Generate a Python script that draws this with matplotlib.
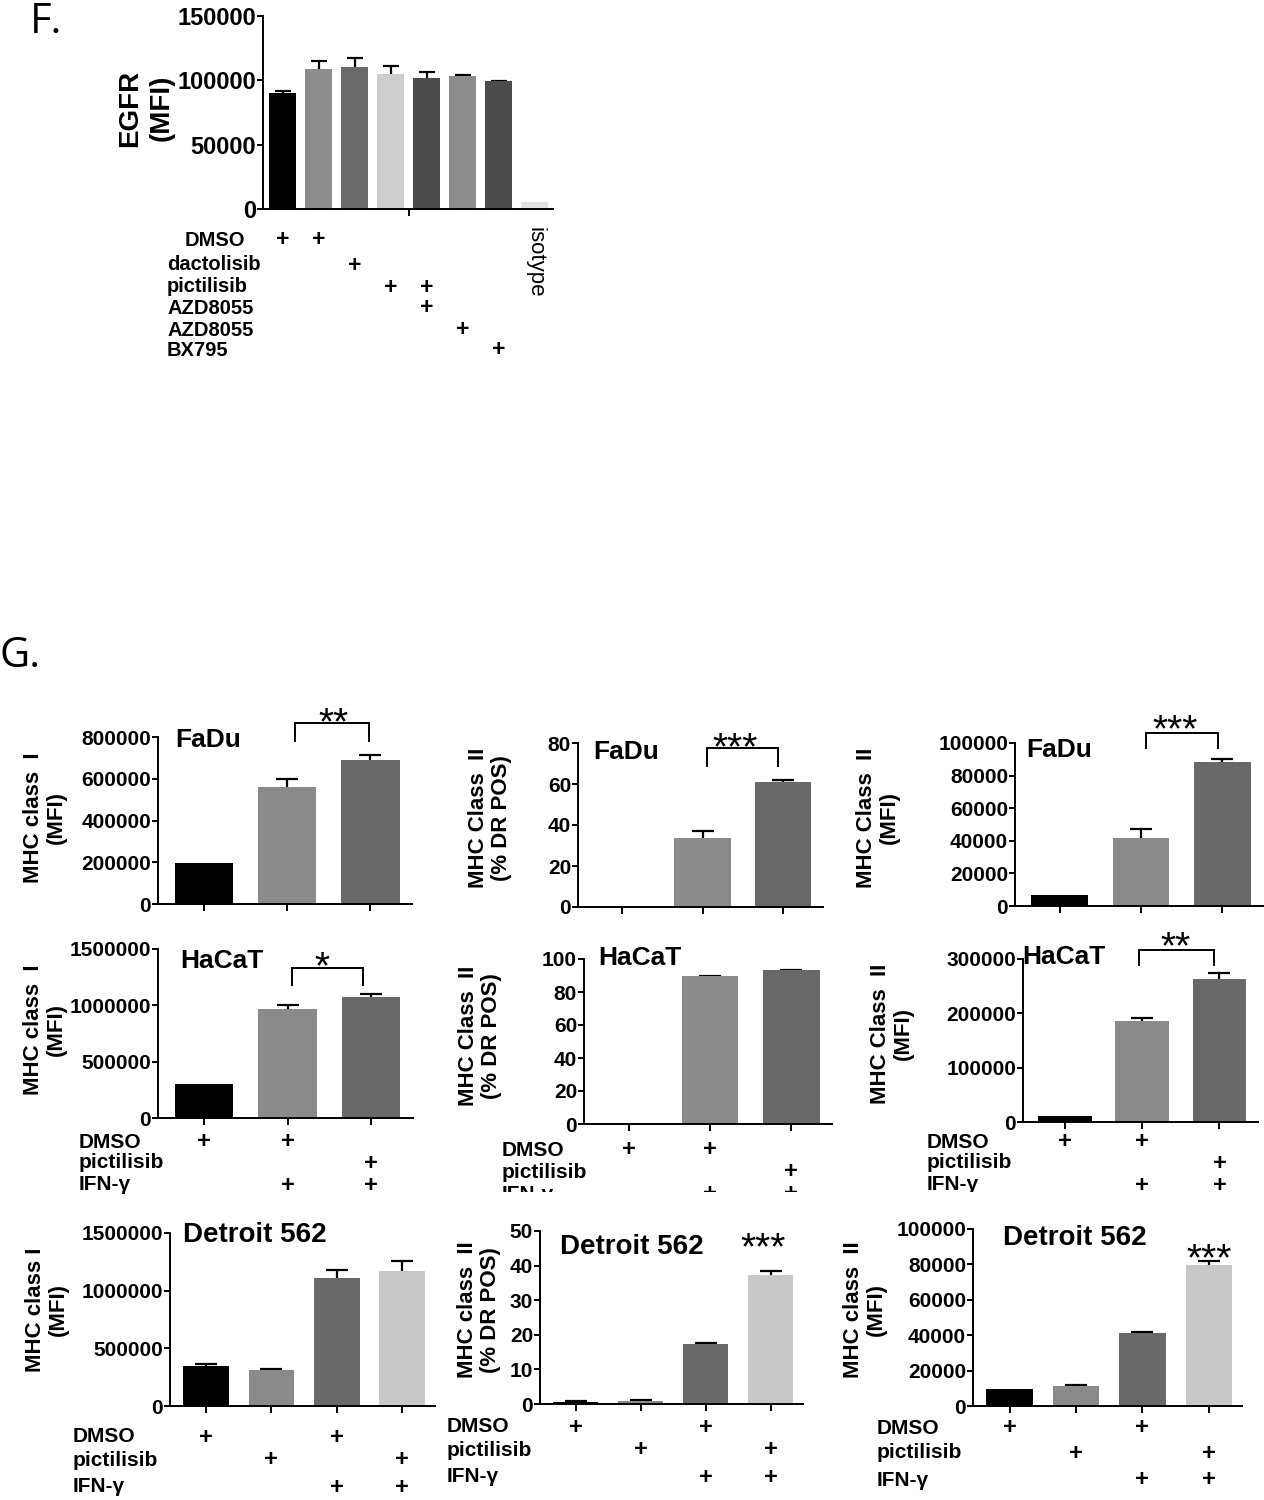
import matplotlib
matplotlib.use('Agg')
import matplotlib.pyplot as plt
import matplotlib.transforms as mtransforms
from matplotlib.patches import Rectangle
import numpy as np

plt.rcParams['font.family'] = ['Liberation Sans', 'DejaVu Sans']

W, H = 1264, 1500
fig = plt.figure(figsize=(W / 100, H / 100), dpi=100)


def fx(x):
    return x / W


def fy(y):
    return 1 - y / H


# ---------------- DATA ----------------
# Panel F : EGFR MFI
egfr_mean = [90000, 109000, 110500, 105200, 101500, 103700, 99200, 5200]
egfr_err = [2000, 5800, 7000, 6200, 4700, 500, 400, 0]
egfr_colors = ['#000000', '#8c8c8c', '#6a6a6a', '#cdcdcd', '#4b4b4b', '#8c8c8c', '#4b4b4b', '#e3e3e3']
egfr_rows = ['DMSO', 'dactolisib', 'pictilisib', 'AZD8055', 'AZD8055', 'BX795']
egfr_plus = [[1, 1, 0, 0, 0, 0, 0, 0],
             [0, 0, 1, 0, 0, 0, 0, 0],
             [0, 0, 0, 1, 1, 0, 0, 0],
             [0, 0, 0, 0, 1, 0, 0, 0],
             [0, 0, 0, 0, 0, 1, 0, 0],
             [0, 0, 0, 0, 0, 0, 1, 0]]

# Panel G : MHC expression
fadu_mhc1 = [198000, 560000, 688000]
fadu_mhc1_err = [0, 38000, 27000]
fadu_dr = [0.6, 33.5, 61.2]
fadu_dr_err = [0, 3.7, 0.7]
fadu_mfi2 = [7000, 42000, 88300]
fadu_mfi2_err = [0, 5500, 2000]

hacat_mhc1 = [306000, 967000, 1071000]
hacat_mhc1_err = [0, 33000, 33000]
hacat_dr = [0.6, 89.5, 93.1]
hacat_dr_err = [0, 0.4, 0.4]
hacat_mfi2 = [10400, 186500, 263000]
hacat_mfi2_err = [0, 5000, 11000]

detroit_mhc1 = [346000, 312000, 1114000, 1171000]
detroit_mhc1_err = [14000, 10000, 69000, 86000]
detroit_dr = [0.7, 1.0, 17.3, 37.4]
detroit_dr_err = [0.1, 0.2, 0.2, 0.9]
detroit_mfi2 = [9800, 11300, 41400, 79400]
detroit_mfi2_err = [0, 500, 300, 2800]

colors3 = ['#000000', '#8a8a8a', '#686868']
colors4 = ['#000000', '#8a8a8a', '#686868', '#c8c8c8']

g_rows = ['DMSO', 'pictilisib', 'IFN-γ']
plus3 = [[1, 1, 0], [0, 0, 1], [0, 1, 1]]
plus4 = [[1, 0, 1, 0], [0, 1, 0, 1], [0, 0, 1, 1]]


# ---------------- HELPERS ----------------
def make_panel(box, means, errs, colors, ymax, ystep, tsize=15, width=0.7,
               cap=8, single_tick=False):
    left, right, top, bottom = box
    ax = fig.add_axes([fx(left), fy(bottom), (right - left) / W, (bottom - top) / H])
    ax.patch.set_alpha(0)
    n = len(means)
    x = np.arange(n)
    m = np.array(means, dtype=float)
    e = np.array(errs, dtype=float)
    sel = e > 0
    if sel.any():
        ax.errorbar(x[sel], m[sel], yerr=e[sel], fmt='none', ecolor='black',
                    elinewidth=1.6, capsize=cap, capthick=1.6, zorder=1)
    ax.bar(x, m, width=width, color=colors, zorder=2, linewidth=0)
    ax.set_xlim(-0.55, n - 0.5)
    ax.set_ylim(0, ymax)
    ax.set_yticks(np.arange(0, ymax + ystep / 2, ystep))
    ax.set_yticklabels([f'{int(v)}' for v in np.arange(0, ymax + ystep / 2, ystep)],
                       fontsize=tsize, fontweight='bold')
    if single_tick:
        ax.set_xticks([(n - 1) / 2])
    else:
        ax.set_xticks(x)
    ax.set_xticklabels([])
    for s in ['top', 'right']:
        ax.spines[s].set_visible(False)
    for s in ['left', 'bottom']:
        ax.spines[s].set_linewidth(1.4)
    ax.tick_params(axis='y', direction='out', length=4, width=1.4, pad=1)
    ax.tick_params(axis='x', direction='out', length=5, width=1.4)
    return ax


def ylabel(text, cx, cy, size=16, ls=1.15):
    fig.text(fx(cx), fy(cy), text, rotation=90, ha='center', va='center',
             multialignment='center', fontsize=size, fontweight='bold', linespacing=ls)


def title(text, left, cy, size=19):
    fig.text(fx(left), fy(cy), text, ha='left', va='center', fontsize=size,
             fontweight='bold')


def rows(ax, labels, table, label_xs, ys, size=15):
    trans = mtransforms.blended_transform_factory(ax.transData, fig.transFigure)
    for lab, flags, lx, y in zip(labels, table, label_xs, ys):
        fig.text(fx(lx), fy(y), lab, ha='left', va='center', fontsize=size,
                 fontweight='bold')
        for i, f in enumerate(flags):
            if f:
                ax.text(i, fy(y), '+', transform=trans, ha='center', va='center',
                        fontsize=size + 2, fontweight='bold')


def stars(ax, x, y, text, size=28):
    tr = mtransforms.offset_copy(ax.transData, fig=fig, y=-0.3 * size, units='points')
    ax.text(x, y, text, transform=tr, ha='center', va='center', fontsize=size,
            clip_on=False)


def bracket(ax, x1, x2, ytop, ybot):
    ax.plot([x1, x1, x2, x2], [ybot, ytop, ytop, ybot], color='black', lw=1.4,
            clip_on=False, solid_joinstyle='miter')


# ---------------- PANEL F ----------------
fig.text(fx(30), fy(33), 'F.', fontsize=30, family='Open Sans', ha='left', va='baseline')
axF = make_panel((263, 553, 16, 209), egfr_mean, egfr_err, egfr_colors, 150000, 50000,
                 tsize=17, width=0.75, cap=6, single_tick=True)
ylabel('EGFR\n(MFI)', 146, 108, size=20, ls=1.3)
rows(axF, egfr_rows, egfr_plus, [185, 167, 167, 167, 167, 167],
     [240, 265, 287, 308, 330, 350], size=14.5)
transF = mtransforms.blended_transform_factory(axF.transData, fig.transFigure)
axF.text(7, fy(227), 'isotype', transform=transF, rotation=-90, ha='center', va='top',
         fontsize=16)

# ---------------- PANEL G ----------------
fig.text(fx(0), fy(667), 'G.', fontsize=30, family='Open Sans', ha='left', va='baseline')

# Row 1 : FaDu
ax1 = make_panel((158, 412, 737, 904), fadu_mhc1, fadu_mhc1_err, colors3, 800000, 200000)
ylabel('MHC class  I\n(MFI)', 45, 818)
title('FaDu', 175, 740)
bracket(ax1, 1.1, 1.98, 867000, 781000)
stars(ax1, 1.56, 915000, '**')

ax2 = make_panel((578, 823, 743, 907), fadu_dr, fadu_dr_err, colors3, 80, 20)
ylabel('MHC Class  II\n(% DR POS)', 490, 818)
title('FaDu', 593, 752)
bracket(ax2, 1.05, 1.94, 77.6, 68.8)
stars(ax2, 1.4, 82.4, '***')

ax3 = make_panel((1015, 1263, 743, 906), fadu_mfi2, fadu_mfi2_err, colors3, 100000, 20000)
ylabel('MHC Class  II\n(MFI)', 878, 818)
title('FaDu', 1026, 750)
bracket(ax3, 1.06, 1.95, 106100, 96900)
stars(ax3, 1.42, 114100, '***')

# Row 2 : HaCaT
ax4 = make_panel((158, 413, 949, 1118), hacat_mhc1, hacat_mhc1_err, colors3, 1500000, 500000)
ylabel('MHC class  I\n(MFI)', 45, 1030)
title('HaCaT', 180, 961)
bracket(ax4, 1.05, 1.9, 1331000, 1180000)
stars(ax4, 1.41, 1429000, '*')
rows(ax4, g_rows, plus3, [79, 79, 79], [1142, 1163, 1185])

ax5 = make_panel((584, 832, 959, 1124), hacat_dr, hacat_dr_err, colors3, 100, 20)
ylabel('MHC Class  II\n(% DR POS)', 480, 1036)
title('HaCaT', 598, 958)
rows(ax5, g_rows, plus3, [502, 502, 502], [1150, 1172, 1194])

ax6 = make_panel((1023, 1258, 959, 1122), hacat_mfi2, hacat_mfi2_err, colors3, 300000, 100000)
ylabel('MHC Class  II\n(MFI)', 892, 1034)
title('HaCaT', 1022, 957)
bracket(ax6, 0.96, 1.93, 316600, 289000)
stars(ax6, 1.43, 340500, '**')
rows(ax6, g_rows, plus3, [927, 927, 927], [1142, 1163, 1185])

# Row 3 : Detroit 562
ax7 = make_panel((170, 435, 1233, 1406), detroit_mhc1, detroit_mhc1_err, colors4, 1500000, 500000)
ylabel('MHC class I\n(MFI)', 47, 1310)
title('Detroit 562', 183, 1235, size=20)
rows(ax7, g_rows, plus4, [73, 73, 73], [1437, 1460, 1487])

ax8 = make_panel((540, 803, 1231, 1404), detroit_dr, detroit_dr_err, colors4, 50, 10)
ylabel('MHC class  II\n(% DR POS)', 479, 1310)
title('Detroit 562', 560, 1247, size=20)
stars(ax8, 2.89, 48.0, '***')
rows(ax8, g_rows, plus4, [447, 447, 447], [1427, 1450, 1477])

ax9 = make_panel((973, 1242, 1229, 1406), detroit_mfi2, detroit_mfi2_err, colors4, 100000, 20000)
ylabel('MHC class  II\n(MFI)', 865, 1310)
title('Detroit 562', 1003, 1238, size=20)
stars(ax9, 3.0, 88700, '***')
rows(ax9, g_rows, plus4, [877, 877, 877], [1428, 1453, 1480])

# cropped strip below the HaCaT panels (as in the source figure)
fig.add_artist(Rectangle((fx(430), fy(1210)), (W - 430) / W, 18 / H,
                         transform=fig.transFigure, facecolor='white',
                         edgecolor='none', zorder=10))

fig.savefig('out.png', dpi=100, facecolor='white')
